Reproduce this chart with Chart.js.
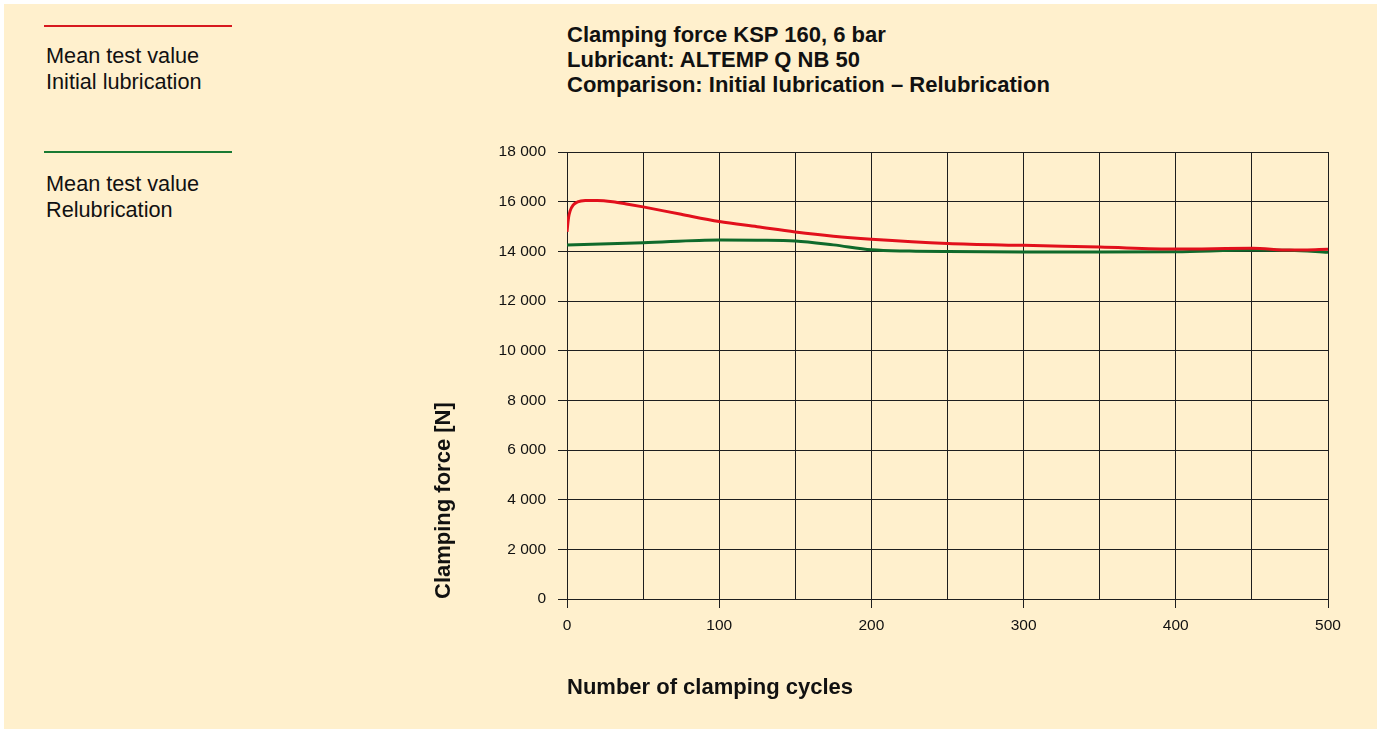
<!DOCTYPE html>
<html>
<head>
<meta charset="utf-8">
<script src="https://cdn.jsdelivr.net/npm/chart.js@4/dist/chart.umd.min.js"></script>
<style>
    html, body { margin: 0; padding: 0; background: #ffffff; }
    body { width: 1383px; height: 729px; position: relative; overflow: hidden; font-family: "Liberation Sans", Arial, sans-serif; }
    #panel { position: absolute; left: 4px; top: 4px; width: 1373px; height: 725px; background: #fff0cd; }
    #wrap { position: absolute; left: 0; top: 0; width: 1383px; height: 729px; }
    .legend-line { position: absolute; left: 44px; width: 188px; height: 2px; }
    .legend-text { position: absolute; left: 46px; font-size: 21.7px; line-height: 25.5px; color: #111; }
    #title { position: absolute; left: 567px; top: 22px; font-size: 22px; line-height: 25px; font-weight: bold; color: #111; }
</style>
</head>
<body>
<div id="panel"></div>
<div class="legend-line" style="top:25px;background:#d7191f"></div>
<div class="legend-text" style="top:43px">Mean test value<br>Initial lubrication</div>
<div class="legend-line" style="top:151px;background:#197a33"></div>
<div class="legend-text" style="top:171px">Mean test value<br>Relubrication</div>
<div id="title">Clamping force KSP 160, 6 bar<br>Lubricant: ALTEMP Q NB 50<br>Comparison: Initial lubrication – Relubrication</div>
<div id="wrap"><canvas id="chart-force" width="1383" height="729"></canvas></div>
<script>
// values
const initialCycles = [0, 1, 2, 4, 7, 12, 20, 30, 40, 50, 75, 100, 125, 150, 175, 200, 250, 300, 350, 400, 450, 475, 500];
const initialForce = [14790, 15350, 15620, 15860, 15990, 16045, 16050, 16000, 15900, 15790, 15490, 15200, 14990, 14780, 14610, 14490, 14320, 14240, 14170, 14090, 14120, 14050, 14080];

const reluCycles = [0, 50, 100, 125, 150, 175, 200, 225, 250, 300, 350, 400, 450, 475, 500];
const reluForce = [14260, 14350, 14460, 14450, 14420, 14260, 14060, 14010, 13990, 13975, 13975, 13985, 14050, 14040, 13960];

const xTicks = [0, 50, 100, 150, 200, 250, 300, 350, 400, 450, 500];
const xLabels = ['0', '', '100', '', '200', '', '300', '', '400', '', '500'];
const yTicks = [0, 2000, 4000, 6000, 8000, 10000, 12000, 14000, 16000, 18000];

const toPoints = (xs, ys) => xs.map((x, i) => ({ x: x, y: ys[i] }));
const fmt = v => String(v).replace(/\B(?=(\d{3})+(?!\d))/g, ' ');
const gridColor = '#1e1e1e';

new Chart(document.getElementById('chart-force'), {
    type: 'line',
    data: {
        datasets: [{
            label: 'Initial lubrication',
            data: toPoints(initialCycles, initialForce),
            borderColor: '#e2101c',
            borderWidth: 3,
            pointRadius: 0,
            cubicInterpolationMode: 'monotone'
        }, {
            label: 'Relubrication',
            data: toPoints(reluCycles, reluForce),
            borderColor: '#0f6a2b',
            borderWidth: 3,
            pointRadius: 0,
            cubicInterpolationMode: 'monotone'
        }]
    },
    options: {
        responsive: false,
        animation: false,
        layout: { padding: { left: 427, top: 152, right: 55, bottom: 24 } },
        plugins: { legend: { display: false }, tooltip: { enabled: false } },
        scales: {
            x: {
                type: 'linear',
                min: 0,
                max: 500,
                afterBuildTicks: s => { s.ticks = xTicks.map(v => ({ value: v })); },
                afterFit: s => { s.height = 106; },
                ticks: {
                    autoSkip: false,
                    maxRotation: 0,
                    padding: 8,
                    color: '#111',
                    font: { family: 'Liberation Sans', size: 15.5 },
                    callback: (v) => xLabels[xTicks.indexOf(v)]
                },
                grid: {
                    color: gridColor,
                    lineWidth: 1,
                    tickLength: 9,
                    tickColor: ctx => (ctx.tick && ctx.tick.value % 100 === 0) ? gridColor : 'rgba(0,0,0,0)'
                },
                border: { color: gridColor, width: 1 },
                title: {
                    display: true,
                    align: 'start',
                    text: 'Number of clamping cycles',
                    color: '#111',
                    font: { family: 'Liberation Sans', size: 22, weight: 'bold' }
                }
            },
            y: {
                min: 0,
                max: 18000,
                afterBuildTicks: s => { s.ticks = yTicks.map(v => ({ value: v })); },
                afterFit: s => { s.width = 140; },
                ticks: {
                    padding: 12,
                    color: '#111',
                    font: { family: 'Liberation Sans', size: 15.5 },
                    callback: v => fmt(v)
                },
                grid: { color: gridColor, lineWidth: 1, tickLength: 9, tickColor: gridColor },
                border: { color: gridColor, width: 1 },
                title: {
                    display: true,
                    align: 'start',
                    text: 'Clamping force [N]',
                    color: '#111',
                    font: { family: 'Liberation Sans', size: 22, weight: 'bold' }
                }
            }
        }
    }
});
</script>
</body>
</html>
